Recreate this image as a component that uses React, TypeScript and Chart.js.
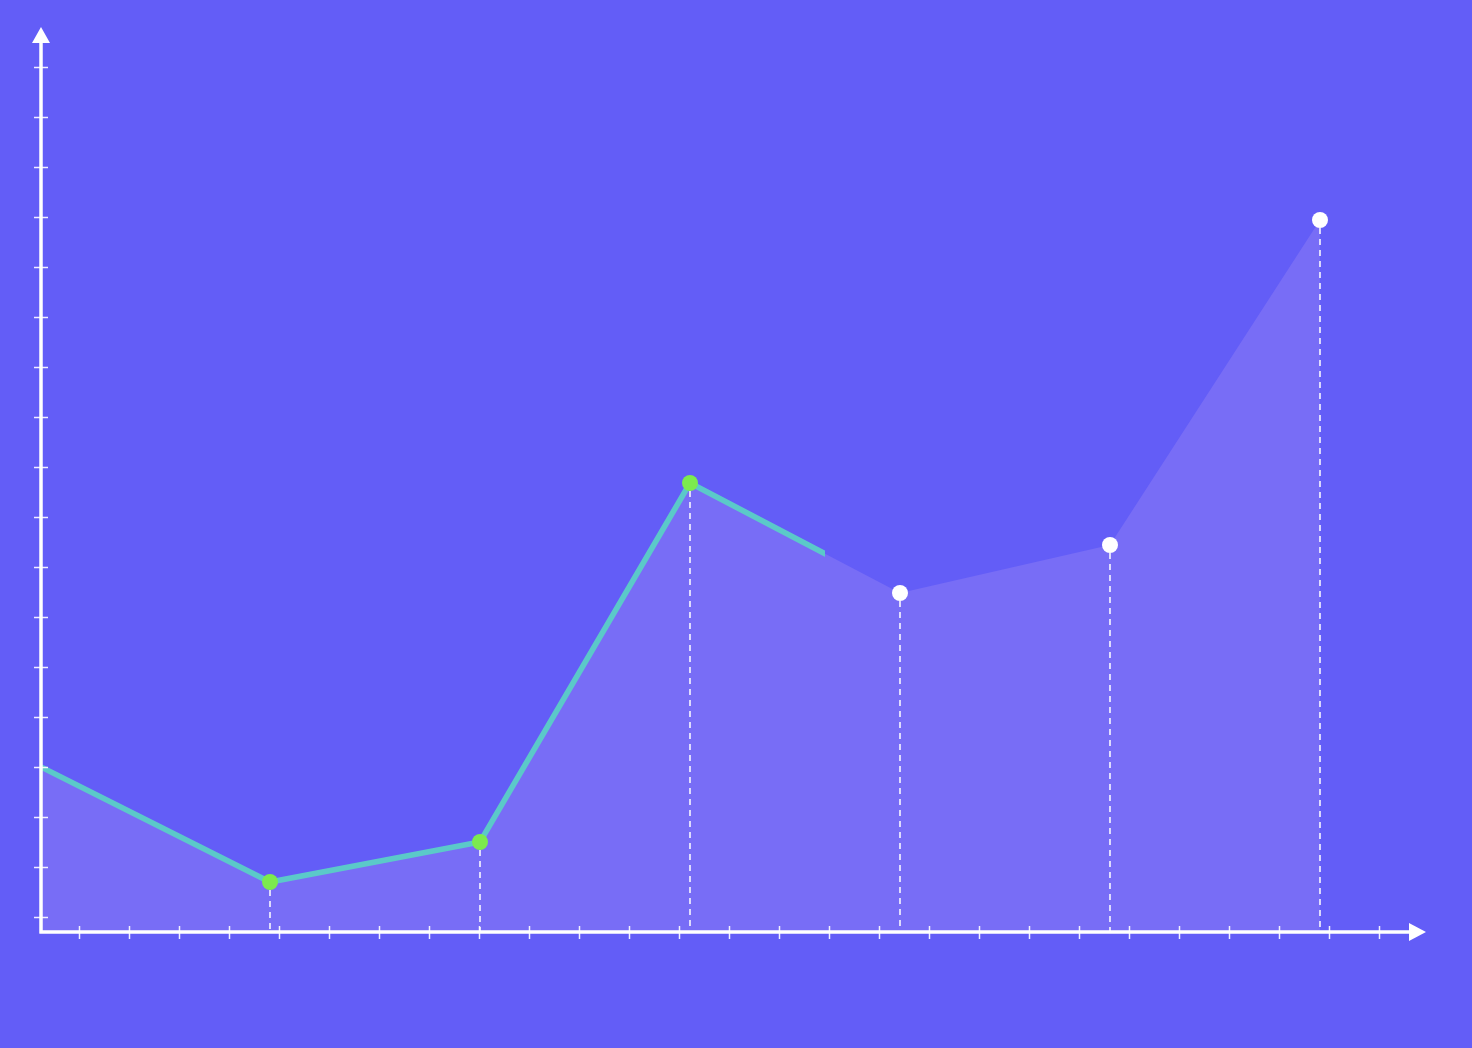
import React, { useEffect, useRef } from "react";
import { Chart, registerables } from "chart.js";

Chart.register(...registerables);

// Series: x positions and values of the polyline
const xValues = [-0.0905, 1, 2, 3, 4, 5, 6];
const yValues = [33, 10, 18, 89.8, 67.8, 77.4, 142.4];
// How far along the curve the highlighted (teal) stroke runs, in x units
const progressX = 3.643;
// Markers before this index are drawn as "reached" (index 0 has no marker)
const reachedCount = 4;

// Decorative axis ticks (in data units)
const yTicks = [3, 13, 23, 33, 43, 53, 63, 73, 83, 93, 103, 113, 123, 133, 143, 153, 163, 173];
const xTicks = Array.from({ length: 27 }, (_, i) => 0.0905 + i * (50 / 210));

const BG = "#635DF7";
const FILL = "#786DF6";
const TEAL = "#5BC9C9";
const GREEN = "#7CEB4E";
const WHITE = "#FFFFFF";

const points = xValues.map((x, i) => ({ x, y: yValues[i] }));

const guidesPlugin = {
  id: "guides",
  afterDatasetDraw(chart: any, args: any) {
    if (args.index !== 0) return;
    const { ctx, scales } = chart;
    const x0 = scales.y.getPixelForValue(0);
    ctx.save();
    ctx.strokeStyle = WHITE;
    ctx.lineWidth = 1.5;
    ctx.setLineDash([6, 5]);
    points.forEach((p, i) => {
      if (i === 0) return;
      const px = scales.x.getPixelForValue(p.x);
      const py = scales.y.getPixelForValue(p.y);
      ctx.beginPath();
      ctx.moveTo(px, py + 8);
      ctx.lineTo(px, x0);
      ctx.stroke();
    });
    ctx.restore();
  },
};

const axesPlugin = {
  id: "axes",
  afterDatasetsDraw(chart: any) {
    const { ctx, scales, chartArea } = chart;
    const ox = chartArea.left;
    const oy = chartArea.bottom;
    const top = chartArea.top;
    const right = chartArea.right;
    ctx.save();
    ctx.strokeStyle = WHITE;
    ctx.fillStyle = WHITE;
    // axis lines
    ctx.lineWidth = 3.5;
    ctx.beginPath();
    ctx.moveTo(ox, oy + 1.5);
    ctx.lineTo(ox, top + 14);
    ctx.moveTo(ox - 1.5, oy);
    ctx.lineTo(right - 14, oy);
    ctx.stroke();
    // arrow heads
    ctx.beginPath();
    ctx.moveTo(ox, top);
    ctx.lineTo(ox + 9, top + 16);
    ctx.lineTo(ox - 9, top + 16);
    ctx.closePath();
    ctx.fill();
    ctx.beginPath();
    ctx.moveTo(right, oy);
    ctx.lineTo(right - 17, oy - 9);
    ctx.lineTo(right - 17, oy + 9);
    ctx.closePath();
    ctx.fill();
    // ticks
    ctx.lineWidth = 1.5;
    ctx.strokeStyle = "rgba(255,255,255,0.9)";
    ctx.beginPath();
    yTicks.forEach((v) => {
      const py = Math.round(scales.y.getPixelForValue(v)) + 0.5;
      ctx.moveTo(ox - 7, py);
      ctx.lineTo(ox + 7, py);
    });
    xTicks.forEach((v) => {
      const px = Math.round(scales.x.getPixelForValue(v)) + 0.5;
      ctx.moveTo(px, oy - 6);
      ctx.lineTo(px, oy + 7);
    });
    ctx.stroke();
    ctx.restore();
  },
};

export default function App() {
  const canvasRef = useRef<HTMLCanvasElement | null>(null);

  useEffect(() => {
    document.body.style.margin = "0";
    document.body.style.background = BG;
    const canvas = canvasRef.current;
    if (!canvas) return;

    const progressStroke = (c: any) => {
      const chart = c.chart;
      const area = chart.chartArea;
      if (!area) return TEAL;
      const g = chart.ctx.createLinearGradient(area.left, 0, area.right, 0);
      const px = chart.scales.x.getPixelForValue(progressX);
      const f = Math.min(1, Math.max(0, (px - area.left) / (area.right - area.left)));
      g.addColorStop(0, TEAL);
      g.addColorStop(f, TEAL);
      g.addColorStop(f, "rgba(91,201,201,0)");
      g.addColorStop(1, "rgba(91,201,201,0)");
      return g;
    };

    const chart = new Chart(canvas, {
      type: "line",
      data: {
        datasets: [
          {
            data: points,
            borderWidth: 0,
            pointRadius: 0,
            fill: "origin",
            backgroundColor: FILL,
            tension: 0,
            order: 2,
          },
          {
            data: points,
            borderWidth: 5.5,
            borderColor: progressStroke as any,
            borderCapStyle: "butt",
            borderJoinStyle: "miter",
            fill: false,
            tension: 0,
            pointRadius: points.map((_, i) => (i === 0 ? 0 : 8)),
            pointBorderWidth: 0,
            pointBackgroundColor: points.map((_, i) => (i < reachedCount ? GREEN : WHITE)),
            order: 1,
          },
        ],
      },
      options: {
        responsive: false,
        animation: false,
        devicePixelRatio: 1,
        layout: { padding: { left: 41, right: 46, top: 27, bottom: 116 } },
        plugins: {
          legend: { display: false },
          tooltip: { enabled: false },
        },
        scales: {
          x: { type: "linear", min: -0.0905, max: 6.5048, display: false },
          y: { type: "linear", min: 0, max: 181, display: false },
        },
      },
      plugins: [guidesPlugin, axesPlugin],
    });

    return () => chart.destroy();
  }, []);

  return (
    <div style={{ width: 1472, height: 1048, background: BG }}>
      <canvas ref={canvasRef} width={1472} height={1048} style={{ display: "block" }} />
    </div>
  );
}
